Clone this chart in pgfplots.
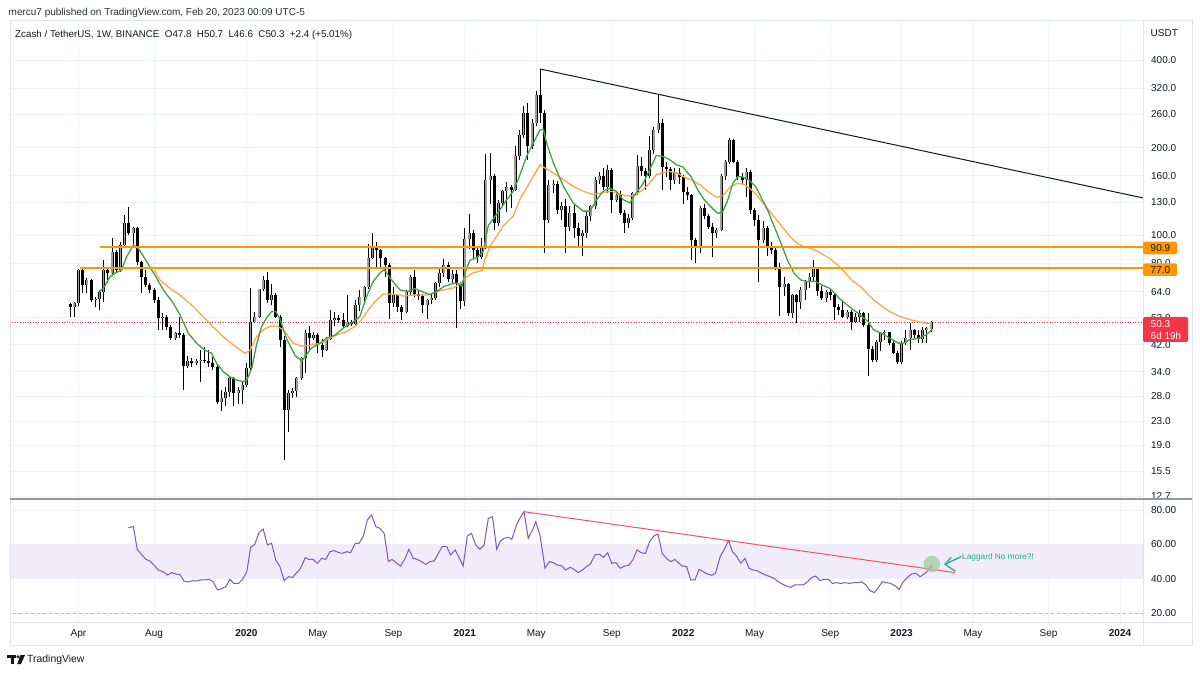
\documentclass[border=0pt]{standalone}
\usepackage{fontspec}
\setmainfont{Liberation Sans}
\usepackage{pgfplots}
\usepackage{pgfplotstable}
\pgfplotsset{compat=1.18}

\definecolor{txt}{HTML}{131722}
\definecolor{gridc}{HTML}{F0F3FA}
\definecolor{framec}{HTML}{E0E3EB}
\definecolor{upc}{HTML}{9E9E9E}
\definecolor{maG}{HTML}{43A047}
\definecolor{maO}{HTML}{FFA64D}
\definecolor{hlO}{HTML}{FF9800}
\definecolor{redl}{HTML}{F23645}
\definecolor{rsic}{HTML}{7E57C2}
\definecolor{bandc}{HTML}{F0ECF9}
\definecolor{tealc}{HTML}{22AB94}
\definecolor{circc}{HTML}{9CCB98}
\definecolor{sepc}{HTML}{9598A1}

% weekly candles, k = week index (k=1: week of 18 Mar 2019, k=206: week of 20 Feb 2023)
\pgfplotstableread{
k O H L C
2 56.8 59.1 52.2 58.4
3 58.4 76.5 57.0 76.0
5 67.5 71.1 63.1 70.2
7 59.9 61.5 56.8 60.5
8 60.5 64.8 55.4 64.0
9 64.0 82.2 59.1 75.9
11 74.0 97.6 73.5 87.8
13 75.9 95.0 75.0 92.5
14 92.5 117.3 90.1 109.8
16 101.5 106.5 91.3 105.6
23 51.9 53.9 47.3 52.5
26 44.2 46.5 43.7 46.0
29 35.5 38.5 35.0 37.0
31 36.4 37.5 35.8 36.9
32 36.9 40.3 31.4 37.3
37 26.8 29.4 24.8 27.5
38 27.5 30.2 25.8 29.0
39 29.0 32.6 27.9 32.2
41 28.6 30.2 26.4 29.4
42 29.4 31.4 26.4 30.6
43 30.6 36.3 30.2 34.9
44 34.9 65.7 34.5 50.5
45 50.5 54.7 50.0 52.5
46 52.5 65.5 52.0 65.2
47 65.2 72.5 64.5 70.2
49 59.9 67.8 57.6 62.3
53 25.1 29.4 21.1 28.6
54 28.6 29.8 27.5 29.2
55 29.2 32.6 27.9 32.2
56 32.2 38.3 31.8 37.8
57 37.8 47.3 33.7 46.0
59 44.5 46.5 43.5 45.5
62 40.3 44.8 40.0 44.0
63 44.0 55.4 43.5 51.2
64 51.2 54.7 48.6 51.8
67 48.6 62.3 48.3 50.2
69 49.5 59.9 49.0 57.6
70 57.6 64.8 55.0 61.5
71 61.5 67.0 59.1 66.5
72 66.5 93.0 65.5 83.3
73 83.3 101.5 83.0 91.4
78 58.5 66.5 56.8 62.3
81 54.7 64.8 54.0 64.0
82 64.0 73.0 62.0 72.0
86 57.6 60.5 51.5 59.9
87 59.9 63.0 58.0 61.0
88 61.0 69.0 60.0 68.3
89 68.3 78.0 66.5 74.3
90 74.3 83.0 72.0 79.0
92 70.5 76.0 68.0 73.5
95 59.6 106.0 57.0 97.0
96 97.0 118.0 90.0 102.0
99 84.5 98.0 83.0 92.0
100 92.0 190.0 90.0 155.0
101 155.0 191.0 128.0 160.0
103 110.0 132.0 108.0 129.0
104 129.0 143.0 127.0 141.5
105 141.5 152.0 120.0 147.0
107 143.0 202.0 142.0 186.6
108 186.6 230.0 182.0 221.0
109 221.0 277.0 215.0 262.6
111 202.0 250.0 198.0 242.7
112 242.7 312.0 238.0 303.2
115 113.0 155.0 110.0 149.0
116 149.0 155.0 140.0 150.0
118 122.5 130.0 113.0 125.8
120 107.0 126.0 103.0 119.0
123 99.3 104.0 85.0 101.9
124 101.9 120.0 98.0 116.0
125 116.0 127.0 112.0 126.0
126 126.0 158.0 123.0 155.0
127 155.0 165.0 150.0 160.0
129 147.0 175.0 140.0 168.0
131 132.5 141.0 130.0 138.0
134 110.3 118.0 106.0 115.0
135 115.0 141.0 113.0 139.7
136 139.7 188.0 137.0 172.4
139 160.0 219.0 157.0 196.6
140 196.6 236.0 190.0 230.0
141 230.0 305.0 225.0 242.7
145 155.0 170.0 150.0 164.0
151 91.0 126.0 87.0 124.0
155 101.5 106.0 98.0 104.0
156 104.0 162.0 103.0 160.0
157 160.0 182.0 155.0 179.0
158 179.0 215.0 176.0 212.0
162 155.0 170.0 135.0 165.0
166 96.0 112.0 94.0 106.0
171 66.6 72.0 62.0 68.0
173 54.0 63.0 52.0 62.4
175 58.8 66.6 56.0 64.9
176 64.9 70.2 60.0 69.3
177 69.3 74.0 66.0 72.1
178 72.1 82.2 69.0 76.5
181 61.0 65.0 59.0 64.0
186 52.5 55.5 51.5 54.5
188 50.5 53.9 49.8 52.5
189 52.5 55.3 50.5 53.9
193 37.4 43.5 36.8 42.9
194 42.9 46.5 40.0 46.0
195 46.0 47.3 43.5 46.4
199 36.8 43.2 36.0 42.6
200 42.6 47.3 42.0 44.3
201 44.3 49.8 40.4 47.3
204 43.9 48.5 42.6 47.3
205 47.3 48.5 42.6 47.9
206 47.8 50.7 46.6 50.3
}\upT

\pgfplotstableread{
k O H L C
1 57.9 58.4 52.5 56.8
4 76.0 77.0 63.1 67.5
6 70.2 70.5 59.1 59.9
10 75.9 78.0 68.4 74.0
12 87.8 89.0 75.0 75.9
15 109.8 125.4 100.2 101.5
17 105.6 107.0 79.0 81.1
18 81.1 81.5 63.1 72.1
19 72.1 75.9 66.6 67.5
20 67.5 68.4 63.1 64.8
21 64.8 65.7 58.4 59.9
22 59.9 61.5 47.3 51.9
24 52.5 53.2 47.3 48.5
25 48.5 49.0 43.7 44.2
27 46.0 52.5 44.2 45.4
28 45.4 46.0 29.4 35.5
30 37.0 38.0 35.4 36.4
33 37.3 41.4 36.3 37.1
34 37.1 40.3 35.4 36.5
35 36.5 38.3 34.5 35.4
36 35.4 35.8 26.4 26.8
40 32.2 32.6 25.8 28.6
48 70.2 75.0 58.4 59.9
50 62.3 63.1 51.9 52.5
51 52.5 53.0 41.4 43.5
52 43.5 45.0 16.9 25.1
58 46.0 48.6 40.3 44.5
60 45.5 46.0 39.5 42.0
61 42.0 44.0 38.3 40.3
65 51.8 53.0 49.9 51.0
66 51.0 53.9 48.0 48.6
68 50.2 51.2 48.6 49.5
74 91.4 95.0 78.0 88.8
75 88.8 90.0 77.0 83.3
76 83.3 84.0 72.0 79.0
77 79.0 80.2 51.5 58.5
79 62.3 63.0 54.7 56.8
80 56.8 57.6 51.2 54.7
83 72.0 76.0 61.5 63.0
84 63.0 65.0 60.0 62.0
85 62.0 63.0 54.0 57.6
91 79.0 81.0 69.0 70.5
93 73.5 76.0 48.0 68.0
94 68.0 69.0 56.0 59.6
97 102.0 104.0 82.6 89.0
98 89.0 92.0 80.0 84.5
102 160.0 162.0 104.6 110.0
106 147.0 149.0 124.0 143.0
110 262.6 284.0 181.0 202.0
113 303.2 372.0 243.0 263.0
114 263.0 270.0 87.0 113.0
117 150.0 153.0 118.0 122.5
119 125.8 133.0 87.0 107.0
121 119.0 127.0 98.0 106.0
122 106.0 110.0 92.0 99.3
128 160.0 170.0 143.0 147.0
130 168.0 170.0 119.0 132.5
132 138.0 142.0 117.0 119.0
133 119.0 122.0 101.9 110.3
137 172.4 186.0 160.0 166.0
138 166.0 170.0 143.0 160.0
142 242.7 251.0 143.0 172.0
143 172.0 178.0 158.0 169.0
144 169.0 172.0 143.0 155.0
146 164.0 170.0 150.0 159.0
147 159.0 161.0 128.0 141.0
148 141.0 146.0 132.0 137.0
149 137.0 139.0 82.0 96.0
150 96.0 98.0 80.0 91.0
152 124.0 128.0 114.0 116.0
153 116.0 118.0 105.0 107.0
154 107.0 110.0 84.0 101.5
159 212.0 214.0 177.0 179.0
160 179.0 181.0 155.0 159.0
161 159.0 163.0 150.0 155.0
163 165.0 167.0 118.0 122.0
164 122.0 124.0 108.0 113.0
165 113.0 117.0 69.0 96.0
167 106.0 108.0 85.0 92.0
168 92.0 95.0 86.0 89.0
169 89.0 91.0 76.0 78.0
170 78.0 80.0 52.6 66.6
172 68.0 68.5 52.6 54.0
174 62.4 63.0 50.0 58.8
179 76.5 78.0 62.0 64.1
180 64.1 67.0 60.0 61.0
182 64.0 65.5 60.0 62.5
183 62.5 63.0 51.2 56.9
184 56.9 58.0 53.0 55.3
185 55.3 60.0 52.0 52.5
187 54.5 55.3 47.3 50.5
190 53.9 54.5 48.5 49.3
191 49.3 53.9 32.8 40.5
192 40.5 41.5 36.8 37.4
196 46.4 46.6 42.0 42.6
197 42.6 43.2 39.0 39.4
198 39.4 40.0 36.2 36.8
202 47.3 47.8 44.4 45.4
203 45.4 47.3 42.6 43.9
}\downT

\pgfplotstablegetrowsof{\upT}\pgfmathtruncatemacro\nUp{\pgfplotsretval-1}
\pgfplotstablegetrowsof{\downT}\pgfmathtruncatemacro\nDn{\pgfplotsretval-1}

\pgfplotsset{
  tvaxis/.style={
    scale only axis, width=1133pt,
    xmin=-13.286, xmax=256.476,
    axis line style={draw=none},
    major tick length=0pt,
    xtick={3,21,43,60,78,95,112,130,147,164,182,199,216,234,251},
    yticklabel pos=right,
    tick label style={font=\fontsize{10}{12}\selectfont, text=txt},
    yticklabel style={anchor=west, xshift=4.6pt},
    grid=major, grid style={gridc, line width=0.8pt},
    /pgf/number format/assume math mode=true,
  },
}

\begin{document}
\begin{tikzpicture}[x=1pt,y=1pt]
\useasboundingbox (0pt,0pt) rectangle (1200pt,673pt);
\fill[white] (0pt,0pt) rectangle (1200pt,673pt);

% ---------------- price pane ----------------
\begin{axis}[tvaxis,
  at={(10pt,653pt)}, anchor=north west, height=478pt,
  ymode=log, ymin=12.51, ymax=548.9,
  xticklabels={},
  ytick={12.7,15.5,19,23,28,34,42,52,64,80,100,130,160,200,260,320,400},
  yticklabels={12.7,15.5,19.0,23.0,28.0,34.0,42.0,52.0,64.0,80.0,100.0,130.0,160.0,200.0,260.0,320.0,400.0},
]
% last price dotted line
\addplot[redl, line width=0.8pt, dash pattern=on 1pt off 1.6pt] coordinates {(-14,50.3) (257,50.3)};
% down candles
\pgfplotsinvokeforeach{0,...,\nDn}{%
  \pgfplotstablegetelem{#1}{k}\of\downT\let\ck\pgfplotsretval
  \pgfplotstablegetelem{#1}{O}\of\downT\let\cO\pgfplotsretval
  \pgfplotstablegetelem{#1}{H}\of\downT\let\cH\pgfplotsretval
  \pgfplotstablegetelem{#1}{L}\of\downT\let\cL\pgfplotsretval
  \pgfplotstablegetelem{#1}{C}\of\downT\let\cC\pgfplotsretval
  \edef\next{%
    \noexpand\addplot[forget plot, black, line width=0.75pt] coordinates {(\ck,\cL) (\ck,\cH)};%
    \noexpand\addplot[forget plot, black, line width=3pt, line cap=butt] coordinates {(\ck,\cC) (\ck,\cO)};%
  }\next
}
% up candles
\pgfplotsinvokeforeach{0,...,\nUp}{%
  \pgfplotstablegetelem{#1}{k}\of\upT\let\ck\pgfplotsretval
  \pgfplotstablegetelem{#1}{O}\of\upT\let\cO\pgfplotsretval
  \pgfplotstablegetelem{#1}{H}\of\upT\let\cH\pgfplotsretval
  \pgfplotstablegetelem{#1}{L}\of\upT\let\cL\pgfplotsretval
  \pgfplotstablegetelem{#1}{C}\of\upT\let\cC\pgfplotsretval
  \edef\next{%
    \noexpand\addplot[forget plot, black, line width=0.75pt] coordinates {(\ck,\cL) (\ck,\cH)};%
    \noexpand\addplot[forget plot, black, line width=3pt, line cap=butt] coordinates {(\ck,\cO) (\ck,\cC)};%
    \noexpand\addplot[forget plot, upc, line width=1.5pt, line cap=butt] coordinates {(\ck,\cO) (\ck,\cC)};%
  }\next
}
% slow moving average (orange)
\addplot[maO, line width=1.3pt] coordinates {
(21.1,75.9)(22.4,70.2)(24.8,65.7)(27.2,62.3)(30.4,56.8)(32.7,52.5)(35.1,48.5)(37.5,44.8)(39.9,42)(41.9,40)(42.7,39.3)(43.9,40.3)(45.4,44.8)(47,47.3)(48.6,48.6)(50.2,48.8)(51.8,47.3)(54.2,42.5)(56.2,41.6)(58.1,41.9)(60.5,42.5)(62.1,43.7)(64.5,45.4)(66.9,46.7)(68.8,48.6)(70.4,51.2)(72,55.4)(73.6,59.1)(75.6,62.8)(78,62.8)(80.4,61.8)(82.7,62.3)(85.9,62.3)(89.1,64.5)(92.3,66)(93.9,68)(95.5,72.1)(97.1,74.4)(99.1,75.6)(99.8,82.6)(101,91.7)(102.6,99.3)(104.1,107.4)(106.5,116.2)(108.1,132.5)(109.7,145.3)(111.3,159.3)(112.9,174.6)(114.1,170.2)(116.1,163.6)(118.5,155.2)(120.8,147.2)(123.2,141.5)(125.6,137.9)(127.9,140)(129.9,141.5)(132.3,137.9)(134.3,136.1)(135.8,137.9)(137.4,143.4)(139,151.2)(140.6,161.4)(142.2,164.3)(143.8,165.5)(145.4,164)(147.1,158.7)(149.1,154.6)(151.1,148.6)(153,140.9)(155,134.8)(156.6,137.4)(158.2,146.7)(159.8,150.6)(161.3,149.8)(162.9,144.8)(164.5,137.4)(166.1,128.6)(167.7,120.4)(169.3,112.7)(170.9,105.4)(172.5,98.8)(174.1,93.8)(175.7,91.5)(177.5,90)(179,88)(181.9,83.2)(184,78.5)(185.5,74.5)(187.1,70.2)(189.5,66)(192.3,60)(194,57.5)(196.2,54.6)(198,53)(200.2,51.7)(202.5,50.6)(204.2,50)(206.2,49.5)};
% fast moving average (green)
\addplot[maG, line width=1.3pt] coordinates {
(8,64)(9.2,66.6)(10.5,72)(11.7,74)(13.3,75.9)(14.5,84.5)(16.1,92.5)(17.3,90)(19.3,81)(21.2,73)(23.2,65)(25.6,58.4)(27.2,53.2)(29.2,46)(31.2,42.5)(33.1,40.3)(34.7,39.3)(35.9,36.3)(37.5,34)(39.1,32.6)(40.7,31.8)(42.3,31.4)(43.1,31.8)(44.3,35)(45.4,42)(46.6,48.5)(47.8,52)(49,54.7)(50,54.7)(51,51.5)(52.6,44)(54.6,38.6)(56.2,37)(57.4,39)(58.5,41)(60.5,42.5)(62.1,44.3)(64.1,45.4)(66.1,48)(68.5,50.5)(70,52.5)(71.6,61.5)(73.2,69.4)(74.8,74.2)(75.8,76.2)(77.2,71.3)(79.6,64.8)(81.5,64.1)(83.1,65.6)(84.7,64.1)(86.7,62.5)(88.3,64)(89.9,66.5)(91.5,67.8)(93.1,68.6)(94.3,66.9)(95.1,74.4)(96.2,82)(97.8,83.7)(99.4,88)(100.6,108)(102.2,116)(103.4,122.5)(105,132.5)(106.5,141.5)(107.7,155)(109.7,186.6)(111.3,207.3)(112.9,230)(113.7,231)(114.5,207)(116.1,177)(118.5,147)(120.8,129)(123.2,121)(124.8,121)(126.4,132.5)(127.9,141.5)(129.5,145)(131.1,141.5)(132.7,132.5)(134.3,129)(135.5,138)(137.4,150)(139,168)(140.6,188)(142.2,186.6)(143.8,181.7)(145.4,174.6)(146.9,171.7)(148.9,158.7)(150.5,142.8)(152.1,132)(153.6,125.2)(155.2,118.8)(156.4,120.4)(157.6,132)(158.8,150.6)(160,158.7)(161.1,158.7)(162.7,154.6)(164.3,146.7)(165.5,135.5)(167.1,122)(168.7,106.9)(170.3,93.8)(171.8,82.2)(173.4,74)(175,70.2)(176.6,69.3)(178.4,69.5)(180,67.5)(181.9,65.7)(183.1,63.2)(184.3,60.4)(186.7,56.6)(189.1,53.3)(191.1,50.4)(192.3,47.3)(194.3,46)(196.2,44.3)(198.2,42.6)(199.4,42.6)(200.9,43.7)(203.2,44.3)(204.8,45.5)(206.2,47.3)};
% horizontal levels
\addplot[hlO, line width=2pt] coordinates {(8.1,90.9) (257,90.9)};
\addplot[hlO, line width=2pt] coordinates {(3.4,77.0) (257,77.0)};
% trend line
\addplot[txt, line width=1pt] coordinates {(112.9,372.5) (256.5,134.3)};
\end{axis}

% ---------------- RSI pane ----------------
\begin{axis}[tvaxis,
  at={(10pt,173pt)}, anchor=north west, height=122pt,
  ymin=14.7, ymax=85.83,
  xticklabels={Apr,Aug,\textbf{2020},May,Sep,\textbf{2021},May,Sep,\textbf{2022},May,Sep,\textbf{2023},May,Sep,\textbf{2024}},
  xticklabel style={anchor=base, yshift=-14.5pt},
  ytick={20,40,60,80}, yticklabels={20.00,40.00,60.00,80.00},
]
\addplot[draw=none, fill=bandc, forget plot] coordinates {(-14,40) (257,40) (257,60) (-14,60) (-14,40)};
\addplot[sepc!70, line width=0.8pt, dash pattern=on 3pt off 3pt] coordinates {(-14,20) (257,20)};
\addplot[rsic, line width=1pt] coordinates {
(14.9,69.7)(16.1,70.3)(17,57.1)(18.1,53.8)(19.1,51.2)(20,50.3)(21,47.9)(22,45)(23.2,44)(24.2,42.1)(25.2,43.5)(26.2,42.7)(27.2,42.3)(28.1,38.6)(29.2,38)(30.1,38.8)(31.2,38.6)(32.1,39.2)(33.1,39.2)(34.1,39.6)(35.1,38.2)(36.1,33.4)(37.1,34.1)(38.1,35.3)(39.1,39.6)(40,37.2)(41.1,37.2)(42,39.2)(43.1,44)(44,58.2)(45,60)(46,66.8)(47,68.9)(48,59.6)(49,60.6)(50,50.8)(51,47)(52,38.8)(53,41.1)(54,40.7)(55,43.5)(55.9,46)(57,52.2)(57.9,51.2)(58.9,51.2)(59.9,48.9)(60.9,51.8)(61.9,51.2)(62.9,55.7)(63.9,56.3)(64.9,55.3)(65.8,54.7)(66.9,55.7)(67.8,55.1)(68.9,60.6)(69.8,60.6)(70.8,64.5)(71.8,74.2)(72.8,77.1)(73.8,70.3)(74.8,69.3)(75.8,66.4)(76.8,49.9)(77.7,51.2)(78.8,48.9)(79.7,47.3)(80.8,51.8)(81.7,57.1)(82.7,51.8)(83.7,51.2)(84.7,49.9)(85.7,48.3)(86.7,49.9)(87.7,50.3)(88.7,54.7)(89.6,58.6)(90.7,58.6)(91.6,53.8)(92.7,56.7)(93.6,52.4)(94.6,47.3)(95.6,64.8)(96.6,66.4)(97.6,59.6)(98.6,57.1)(99.6,59.6)(100.6,75.1)(101.6,76.1)(102.6,57.1)(103.4,61.5)(104.3,63.5)(105.4,64.1)(106.2,62.9)(107.3,71.3)(108.1,75.1)(109.1,79)(110.1,63.5)(111.1,68.3)(111.9,73.2)(112.9,65.4)(114.1,46)(115.1,49.9)(116.1,49.3)(117,47.9)(118.1,47.5)(119,45)(120.1,46.6)(121,45.4)(122,43.5)(123,45)(124,47)(124.9,48.5)(126,53.8)(127,54.3)(128,52.4)(129,55.1)(130,48.9)(131,49.3)(132,46)(133,47.3)(134,47.7)(135,50.8)(136,56.7)(137,55.1)(138,54.7)(139,61.5)(140,64.8)(141,66)(142,54.7)(143,51.8)(144,49.9)(145,51.2)(146,48.9)(146.8,47.3)(147.8,47)(148.8,39.2)(149.8,39.2)(150.8,45.4)(151.8,44)(152.7,42.7)(153.8,41.9)(154.7,43.1)(155.8,52.8)(156.7,56.7)(157.8,62.1)(158.7,55.7)(159.8,52.8)(160.7,48.9)(161.7,51.8)(162.7,46)(163.7,45)(164.6,44.6)(165.7,43.1)(166.6,42.1)(167.7,41.1)(168.6,40.2)(169.6,38.2)(170.6,36.8)(171.6,35.7)(172.6,34.9)(173.6,36.3)(174.6,36.3)(175.6,36.3)(176.6,38.2)(177.6,40.7)(178.6,41.5)(179.6,38.8)(180.5,39.6)(181.6,39.6)(182.5,37.2)(183.5,37.6)(184.5,37.2)(185.5,37.6)(186.5,37.2)(187.5,37.6)(188.5,37.6)(189.5,38.2)(190.5,36.3)(191.5,33)(192.5,31.8)(193.5,34.9)(194.4,38.2)(195.5,37.6)(196.4,37.2)(197.5,35.7)(198.4,33.7)(199.4,38.2)(200.4,40.7)(201.4,42.7)(202.4,43.1)(203.4,41.1)(204.4,42.7)(205.4,45)(206.2,47.9)};
\addplot[redl!85, line width=1pt] coordinates {(109.1,79.0) (211.7,43.5)};
\addplot[only marks, mark=*, mark size=8pt, opacity=0.7, mark options={draw=circc, fill=circc}] coordinates {(206.2,48.5)};
\end{axis}

% ---------------- frame & decorations ----------------
\draw[framec, line width=0.8pt] (10,653) rectangle (1192,28);
\draw[framec, line width=0.8pt] (1143,653) -- (1143,28);
\draw[framec, line width=0.8pt] (10,51) -- (1192,51);
\draw[sepc, line width=1.6pt] (10,174) -- (1192,174);

% header texts
\node[anchor=west, inner sep=0pt, text=txt!90, font=\fontsize{10}{12}\selectfont] at (8.5,660.5)
  {mercu7 published on TradingView.com, Feb 20, 2023 00:09 UTC-5};
\node[anchor=west, inner sep=0pt, text=txt, font=\fontsize{9.8}{12}\selectfont] at (15,638.5)
  {Zcash / TetherUS, 1W, BINANCE\hspace{0.55em}O47.8\hspace{0.55em}H50.7\hspace{0.55em}L46.6\hspace{0.55em}C50.3\hspace{0.55em}+2.4 (+5.01\%)};
\node[anchor=west, inner sep=0pt, text=txt, font=\fontsize{10}{12}\selectfont] at (1150.5,640) {USDT};

% price level labels
\fill[hlO, rounded corners=1.5pt] (1143,431.3) rectangle (1177,418.7);
\node[text=txt, font=\fontsize{10}{12}\selectfont, inner sep=0pt, anchor=west] at (1150.5,425) {90.9};
\fill[hlO, rounded corners=1.5pt] (1143,409.7) rectangle (1177,397);
\node[text=txt, font=\fontsize{10}{12}\selectfont, inner sep=0pt, anchor=west] at (1150.5,403.3) {77.0};
\fill[redl, rounded corners=1.5pt] (1143,356) rectangle (1188,331);
\node[text=white, font=\fontsize{10}{12}\selectfont, inner sep=0pt, anchor=west] at (1150.5,349) {50.3};
\node[text=white, font=\fontsize{10}{12}\selectfont, inner sep=0pt, anchor=west] at (1150.5,337) {6d 19h};

% RSI annotation
\draw[tealc, line width=1.3pt, line cap=round, line join=round] (951,115.5) -- (945,108.7) -- (955,102);
\draw[tealc, line width=1.3pt, line cap=round] (945,108.7) -- (961,116.3);
\node[anchor=base west, inner sep=0pt, text=tealc, font=\fontsize{8.3}{10}\selectfont] at (962,113.5) {Laggard No more?!};

% TradingView logo
\fill[txt] (7,18) rectangle (15.5,15);
\fill[txt] (10.5,18) rectangle (13.5,9);
\fill[txt] (18,16.3) circle (1.7);
\fill[txt] (20.5,18) -- (25,18) -- (21,9) -- (17.2,9) -- cycle;
\node[anchor=west, inner sep=0pt, text=txt, font=\fontsize{10.4}{12}\selectfont] at (27,13) {TradingView};
\end{tikzpicture}
\end{document}
